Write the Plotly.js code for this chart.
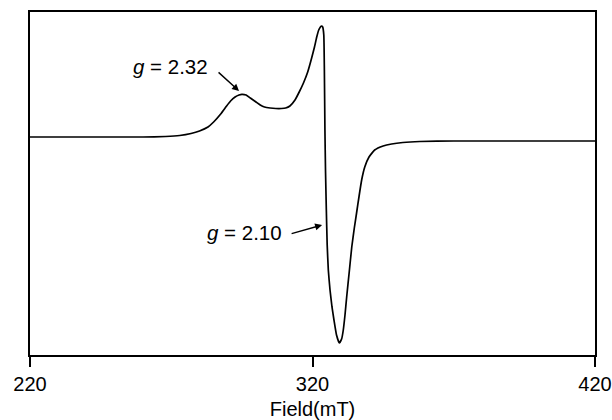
<!DOCTYPE html>
<html>
<head>
<meta charset="utf-8">
<script src="https://cdn.plot.ly/plotly-3.0.1.min.js"></script>
<style>html,body{margin:0;padding:0;background:#fff;}#chart{width:612px;height:420px;}</style>
</head>
<body>
<div id="chart"></div>
<script>
// Magnetic field (mT)
var field = [220, 240, 260, 268, 273, 277, 280, 283, 285, 287.5, 289.6, 291, 292.6, 294, 295, 296.5, 298, 300, 301.5, 303, 305, 307, 309, 310.5, 312, 313.8, 315.3, 316.8, 318.3, 319.7, 320.7, 321.5, 322.2, 322.8, 323.2, 323.6, 324.0, 324.2, 324.4, 324.6, 324.9, 325.2, 325.6, 326.2, 326.9, 327.6, 328.5, 329.5, 330.3, 330.9, 331.5, 332.1, 333.0, 333.9, 334.8, 335.6, 336.5, 337.4, 338.5, 340, 342, 345, 348, 352, 358, 370, 390, 420];
// EPR signal (arbitrary units, derivative)
var signal = [0, 0, 0, 0.5, 1.5, 3.5, 6, 10, 15, 23, 31, 36, 40, 42, 42.7, 42, 39, 35, 32, 30, 29, 28.5, 28.5, 29, 31, 37, 45, 54, 65, 79, 90, 100, 107, 110, 111, 110, 102, 67, 7, -33, -73, -108, -133, -153, -170, -183, -198, -206, -202, -193, -178, -160, -135, -110, -91, -76, -59, -43, -30, -20, -13, -9, -7, -5.5, -4.5, -4, -4, -4];
var tickVals = [220, 320, 420];
var tickText = ["220", "320", "420"];
var labelTexts = ["<i>g</i> = 2.32", "<i>g</i> = 2.10"];
var labelX = [269.7, 296.1];
var labelY = [71, -95];
var arrowX = [294.0, 323.4];
var arrowY = [46, -88];

var trace = {
  x: field, y: signal, type: 'scatter', mode: 'lines',
  line: {color: '#000', width: 1.7, shape: 'spline', smoothing: 0.4},
  hoverinfo: 'skip', showlegend: false
};

var font = {family: 'Liberation Sans, Arial, sans-serif', size: 20, color: '#000'};
var annFont = {family: 'Liberation Sans, Arial, sans-serif', size: 20.5, color: '#000'};
var annotations = [
  {x: labelX[0], y: labelY[0], xref: 'x', yref: 'y', text: labelTexts[0], showarrow: false, font: annFont, xanchor: 'center', yanchor: 'middle'},
  {x: labelX[1], y: labelY[1], xref: 'x', yref: 'y', text: labelTexts[1], showarrow: false, font: annFont, xanchor: 'center', yanchor: 'middle'},
  {x: arrowX[0], y: arrowY[0], xref: 'x', yref: 'y', text: '', showarrow: true, ax: -22, ay: -20, arrowhead: 2, arrowsize: 1, arrowwidth: 1.4, arrowcolor: '#000', standoff: 0, startstandoff: 0},
  {x: arrowX[1], y: arrowY[1], xref: 'x', yref: 'y', text: '', showarrow: true, ax: -32, ay: 9, arrowhead: 2, arrowsize: 1, arrowwidth: 1.4, arrowcolor: '#000', standoff: 0, startstandoff: 0}
];

var layout = {
  width: 612, height: 420,
  margin: {l: 30, r: 17, t: 12, b: 65},
  paper_bgcolor: '#fff', plot_bgcolor: '#fff',
  font: font,
  xaxis: {
    range: [220, 420], tickmode: 'array', tickvals: tickVals, ticktext: tickText,
    ticks: 'outside', ticklen: 10, tickwidth: 2, tickcolor: '#000',
    showline: true, mirror: true, linewidth: 2, linecolor: '#000',
    showgrid: false, zeroline: false, tickfont: font,
    title: {text: 'Field(mT)', font: font, standoff: 8},
    automargin: false
  },
  yaxis: {
    range: [-218, 125], showticklabels: false, ticks: '',
    showline: true, mirror: true, linewidth: 2, linecolor: '#000',
    showgrid: false, zeroline: false, automargin: false
  },
  annotations: annotations
};

Plotly.newPlot('chart', [trace], layout, {staticPlot: true, displayModeBar: false});
</script>
</body>
</html>
